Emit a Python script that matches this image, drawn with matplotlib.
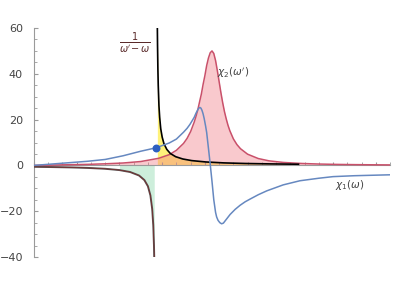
import numpy as np
import matplotlib
matplotlib.use("Agg")
import matplotlib.pyplot as plt
from matplotlib.ticker import MultipleLocator

plt.rcParams["mathtext.fontset"] = "dejavusans"

# pole position (the fixed omega) and the dot value chi1(omega)
omega_pole = 3.43
chi1_at_pole = 7.7

# chi2(omega') - absorption peak
w_chi2 = [0.0, 0.5, 1.0, 1.5, 2.0, 2.5, 3.0, 3.5, 3.8, 4.0, 4.2, 4.3, 4.4, 4.5, 4.55,
          4.6, 4.65, 4.7, 4.75, 4.8, 4.85, 4.9, 4.95, 5.0, 5.05, 5.1, 5.15, 5.2, 5.25,
          5.3, 5.35, 5.4, 5.45, 5.5, 5.6, 5.7, 5.8, 6.0, 6.3, 6.6,
          7.0, 7.5, 8.0, 8.5, 9.0, 9.5, 10.0]
chi2 = [0.0, 0.15, 0.3, 0.45, 0.7, 1.05, 1.7, 3.1, 4.7, 6.6, 9.6, 11.8, 14.8, 18.9, 21.4,
        24.2, 27.7, 31.1, 35.4, 39.2, 43.6, 46.9, 49.2, 50.0, 48.9, 45.8, 41.4, 36.6, 31.8,
        27.4, 23.5, 20.3, 17.5, 15.2, 11.6, 9.1, 7.3, 4.9, 3.0, 2.0,
        1.3, 0.86, 0.6, 0.44, 0.34, 0.27, 0.22]

# chi1(omega) - dispersion
w_chi1 = [0.0, 0.5, 1.0, 1.5, 2.0, 2.5, 3.0, 3.43, 3.8, 4.0, 4.2, 4.3, 4.38, 4.5, 4.55,
          4.6, 4.63, 4.66, 4.69, 4.72, 4.75, 4.78, 4.82, 4.85, 4.9, 4.95, 5.0, 5.05,
          5.1, 5.13, 5.17, 5.22, 5.27, 5.32, 5.38, 5.51, 5.65, 5.79, 5.93, 6.07, 6.3,
          6.54, 7.0, 7.47, 8.0, 8.4, 9.0, 9.5, 10.0]
chi1 = [0.0, 0.6, 1.2, 1.8, 2.6, 4.2, 6.2, 7.7, 9.8, 11.5, 14.5, 16.2, 17.9, 21.0, 22.8,
        24.3, 25.0, 25.3, 25.0, 24.0, 22.5, 20.5, 17.2, 14.4, 7.5, 0.5, -7.0, -15.0,
        -20.5, -22.5, -24.0, -25.0, -25.5, -25.2, -24.0, -21.4, -19.2, -17.4, -15.9, -14.7, -12.8,
        -11.1, -8.5, -6.7, -5.6, -4.9, -4.5, -4.3, -4.1]

# 1/(omega' - omega), branch above the pole
w_hyp_pos = [3.465, 3.47, 3.48, 3.49, 3.51, 3.53, 3.56, 3.60, 3.65, 3.73, 3.83, 3.98,
             4.18, 4.43, 4.83, 5.33, 5.93, 6.63, 7.43]
hyp_pos = [60, 52.5, 42, 35, 26, 21, 16, 12.4, 9.5, 7.0, 5.2, 3.8,
           2.8, 2.1, 1.5, 1.1, 0.84, 0.66, 0.52]

# branch below the pole
w_hyp_neg = [0.0, 0.5, 1.0, 1.5, 2.0, 2.4, 2.7, 2.95, 3.1, 3.2, 3.27, 3.32, 3.35,
             3.37, 3.377]
hyp_neg = [-0.61, -0.72, -0.86, -1.09, -1.47, -2.04, -2.88, -4.4, -6.4, -9.1, -13.1,
           -19, -26, -35, -40]
green_start = 2.4

fig = plt.figure(figsize=(4.0, 2.86), dpi=100)
ax = fig.add_axes([0.085, 0.1014, 0.89, 0.8006])

wn = np.array(w_hyp_neg)
hn = np.array(hyp_neg)
mask = wn >= green_start
ax.fill_between(wn[mask], hn[mask], 0, color="#cdeedb", lw=0, zorder=1)
ax.fill_between(w_hyp_pos, hyp_pos, 0, color="#fff27a", lw=0, zorder=1)
ax.fill_between(w_chi2, chi2, 0, color="#f07882", alpha=0.4, lw=0, zorder=2)

ax.plot(w_chi2, chi2, color="#c9506a", lw=1.1, zorder=3)
ax.plot(w_hyp_neg, hyp_neg, color="#5a5555", lw=1.4, zorder=3)
ax.plot(w_hyp_neg, hyp_neg, color="#7a2a2a", lw=0.5, zorder=3)
ax.plot(w_hyp_pos, hyp_pos, color="black", lw=1.2, zorder=3)
ax.plot(w_chi1, chi1, color="#6688c0", lw=1.1, zorder=4)
ax.scatter([omega_pole], [chi1_at_pole], s=22, color="#2d5fc0", zorder=5)

ax.set_xlim(0, 10)
ax.set_ylim(-40, 60)
for s in ["top", "right"]:
    ax.spines[s].set_visible(False)
ax.spines["bottom"].set_position(("data", 0))
ax.spines["left"].set_color("#9a9a9a")
ax.spines["bottom"].set_color("#9a9a9a")
ax.spines["left"].set_linewidth(0.8)
ax.spines["bottom"].set_linewidth(0.8)

ax.yaxis.set_major_locator(MultipleLocator(20))
ax.yaxis.set_minor_locator(MultipleLocator(5))
ax.tick_params(axis="y", which="major", direction="in", length=3, color="#9a9a9a",
               labelsize=8, labelcolor="#444444", pad=8)
ax.tick_params(axis="y", which="minor", direction="in", length=2, color="#9a9a9a")
ax.xaxis.set_major_locator(MultipleLocator(1.2))
ax.xaxis.set_minor_locator(MultipleLocator(0.4))
ax.tick_params(axis="x", which="both", direction="in", length=2, color="#9a9a9a",
               labelbottom=False)

ax.text(2.84, 53.5, r"$\frac{1}{\omega'\!-\omega}$", fontsize=10, color="#5a2a2a",
        ha="center", va="center")
ax.text(5.15, 40.5, r"$\chi_2(\omega')$", fontsize=7.5, color="#444444",
        ha="left", va="center")
ax.text(8.45, -8.7, r"$\chi_1(\omega)$", fontsize=7.5, color="#444444",
        ha="left", va="center")

fig.savefig("out.png", dpi=100)
